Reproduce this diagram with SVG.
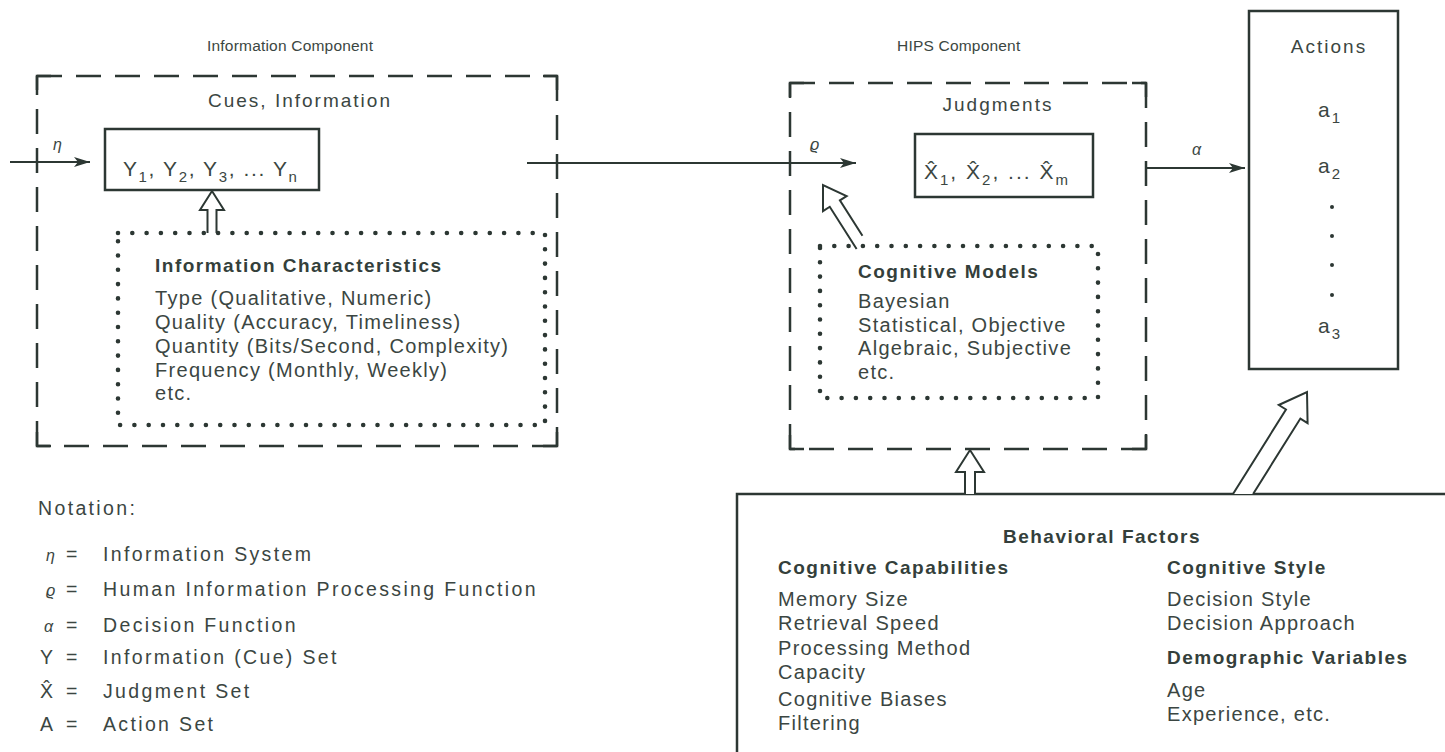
<svg xmlns="http://www.w3.org/2000/svg" width="1445" height="752" viewBox="0 0 1445 752">
  <defs>
    <style>
      text { font-family: "Liberation Sans", Arial, Helvetica, sans-serif; fill: #3b4642; }
      .title { font-size: 15.5px; letter-spacing: 0.2px; }
      .head { font-size: 19px; letter-spacing: 2px; }
      .body { font-size: 20px; letter-spacing: 1.3px; }
      .bold { font-size: 19px; font-weight: bold; letter-spacing: 1.5px; fill: #343f3b; }
      .note { font-size: 19.5px; letter-spacing: 2.35px; }
      .sym { font-size: 16px; font-style: italic; }
      .math { font-size: 21px; letter-spacing: 2px; }
      .sub { font-size: 15px; }
      .dash { fill: none; stroke: #2c3733; stroke-width: 2.5; stroke-dasharray: 25 14; }
      .corner { fill: none; stroke: #2c3733; stroke-width: 2.5; }
      .dots { fill: none; stroke: #2c3733; stroke-width: 4.6; stroke-dasharray: 0 14.3; stroke-linecap: round; }
      .box { fill: #fff; stroke: #2c3733; stroke-width: 2.5; }
      .wire { fill: none; stroke: #2c3733; stroke-width: 2.2; }
      .hollow { fill: #fff; stroke: #2c3733; stroke-width: 2; stroke-linejoin: miter; }
    </style>
    <marker id="tip" markerUnits="userSpaceOnUse" markerWidth="18" markerHeight="12" refX="16" refY="6" orient="auto">
      <path d="M0,1 L16,6 L0,11 L4,6 Z" fill="#2c3733"/>
    </marker>
  </defs>

  <!-- Information component -->
  <g id="information-component">
    <text class="title" x="207" y="51">Information Component</text>
    <path class="dash" d="M37,76 H557"/>
    <path class="dash" d="M557,76 V446"/>
    <path class="dash" d="M557,446 H37"/>
    <path class="dash" d="M37,446 V76"/>
    <path class="corner" d="M37,90 V76 H51 M543,76 H557 V90 M557,432 V446 H543 M51,446 H37 V432"/>
    <text class="head" x="300" y="107" text-anchor="middle">Cues, Information</text>
  </g>

  <g id="cue-set">
    <rect class="box" x="105" y="129" width="214" height="61"/>
    <text class="math" x="123" y="176" style="letter-spacing:1.6px">Y<tspan class="sub" dy="6">1</tspan><tspan dy="-6">, Y</tspan><tspan class="sub" dy="6">2</tspan><tspan dy="-6">, Y</tspan><tspan class="sub" dy="6">3</tspan><tspan dy="-6">, ... Y</tspan><tspan class="sub" dy="6">n</tspan></text>
  </g>

  <g id="information-characteristics">
    <rect class="dots" x="118" y="233" width="427" height="192"/>
    <text class="bold" x="155" y="272">Information Characteristics</text>
    <text class="body" x="155" y="305">Type (Qualitative, Numeric)</text>
    <text class="body" x="155" y="329">Quality (Accuracy, Timeliness)</text>
    <text class="body" x="155" y="353">Quantity (Bits/Second, Complexity)</text>
    <text class="body" x="155" y="377">Frequency (Monthly, Weekly)</text>
    <text class="body" x="155" y="400">etc.</text>
  </g>

  <!-- HIPS component -->
  <g id="hips-component">
    <text class="title" x="897" y="51">HIPS Component</text>
    <path class="dash" d="M790,83 H1146"/>
    <path class="dash" d="M1146,83 V449"/>
    <path class="dash" d="M1146,449 H790"/>
    <path class="dash" d="M790,449 V83"/>
    <path class="corner" d="M790,97 V83 H804 M1132,83 H1146 V97 M1146,435 V449 H1132 M804,449 H790 V435"/>
    <text class="head" x="998" y="111" text-anchor="middle">Judgments</text>
  </g>

  <g id="judgment-set">
    <rect class="box" x="915" y="134" width="178" height="63"/>
    <text class="math" x="924" y="179">X̂<tspan class="sub" dy="6">1</tspan><tspan dy="-6">, X̂</tspan><tspan class="sub" dy="6">2</tspan><tspan dy="-6">, ... X̂</tspan><tspan class="sub" dy="6">m</tspan></text>
  </g>

  <g id="cognitive-models">
    <rect class="dots" x="820" y="246" width="278" height="152"/>
    <text class="bold" x="858" y="278">Cognitive Models</text>
    <text class="body" x="858" y="308">Bayesian</text>
    <text class="body" x="858" y="332">Statistical, Objective</text>
    <text class="body" x="858" y="355">Algebraic, Subjective</text>
    <text class="body" x="858" y="379">etc.</text>
  </g>

  <!-- Action set -->
  <g id="actions">
    <rect class="box" x="1249" y="11" width="149" height="358"/>
    <text class="head" x="1329" y="53" text-anchor="middle">Actions</text>
    <text class="math" x="1318" y="117">a<tspan class="sub" dy="6">1</tspan></text>
    <text class="math" x="1318" y="173">a<tspan class="sub" dy="6">2</tspan></text>
    <circle cx="1332" cy="207" r="2" fill="#2c3733"/>
    <circle cx="1332" cy="236" r="2" fill="#2c3733"/>
    <circle cx="1332" cy="265" r="2" fill="#2c3733"/>
    <circle cx="1332" cy="295" r="2" fill="#2c3733"/>
    <text class="math" x="1318" y="333">a<tspan class="sub" dy="6">3</tspan></text>
  </g>

  <!-- Behavioral factors -->
  <g id="behavioral-factors">
    <path class="corner" d="M737,752 V494 H1445"/>
    <text class="bold" x="1102" y="543" text-anchor="middle">Behavioral Factors</text>
    <text class="bold" x="778" y="574">Cognitive Capabilities</text>
    <text class="body" x="778" y="606">Memory Size</text>
    <text class="body" x="778" y="630">Retrieval Speed</text>
    <text class="body" x="778" y="655">Processing Method</text>
    <text class="body" x="778" y="679">Capacity</text>
    <text class="body" x="778" y="706">Cognitive Biases</text>
    <text class="body" x="778" y="730">Filtering</text>
    <text class="bold" x="1167" y="574">Cognitive Style</text>
    <text class="body" x="1167" y="606">Decision Style</text>
    <text class="body" x="1167" y="630">Decision Approach</text>
    <text class="bold" x="1167" y="664">Demographic Variables</text>
    <text class="body" x="1167" y="697">Age</text>
    <text class="body" x="1167" y="721">Experience, etc.</text>
  </g>

  <!-- Notation legend -->
  <g id="notation">
    <text class="note" x="38" y="515">Notation:</text>
    <text class="sym" x="46" y="561">η</text>
    <text class="note" x="66" y="561">=</text>
    <text class="note" x="103" y="561">Information System</text>
    <text class="sym" x="46" y="596">ϱ</text>
    <text class="note" x="66" y="596">=</text>
    <text class="note" x="103" y="596">Human Information Processing Function</text>
    <text class="sym" x="44" y="632">α</text>
    <text class="note" x="66" y="632">=</text>
    <text class="note" x="103" y="632">Decision Function</text>
    <text class="note" x="40" y="664">Y</text>
    <text class="note" x="66" y="664">=</text>
    <text class="note" x="103" y="664">Information (Cue) Set</text>
    <text class="note" x="40" y="698">X̂</text>
    <text class="note" x="66" y="698">=</text>
    <text class="note" x="103" y="698">Judgment Set</text>
    <text class="note" x="40" y="731">A</text>
    <text class="note" x="66" y="731">=</text>
    <text class="note" x="103" y="731">Action Set</text>
  </g>

  <!-- Connectors -->
  <g id="connectors">
    <line class="wire" x1="10" y1="162" x2="90" y2="162" marker-end="url(#tip)"/>
    <text class="sym" x="53" y="150">η</text>
    <line class="wire" x1="527" y1="163" x2="856" y2="163" marker-end="url(#tip)"/>
    <text class="sym" x="810" y="150">ϱ</text>
    <line class="wire" x1="1147" y1="168" x2="1245" y2="168" marker-end="url(#tip)"/>
    <text class="sym" x="1192" y="155">α</text>

    <!-- hollow block arrows -->
    <path class="hollow" d="M207.5,233 V210 H200 L212,191 L224,210 H216.5 V233"/>
    <path class="hollow" transform="translate(823,185) rotate(-32.5)" d="M-6,72 V22 H-14 L0,0 L14,22 H6 V64"/>
    <path class="hollow" d="M965,494 V472 H956 L970,450 L984,472 H975 V494"/>
    <path class="hollow" transform="translate(1307,392) rotate(32.1)" d="M-8.5,125.7 V26 H-17 L0,0 L17,26 H8.5 V115"/>
  </g>
</svg>
